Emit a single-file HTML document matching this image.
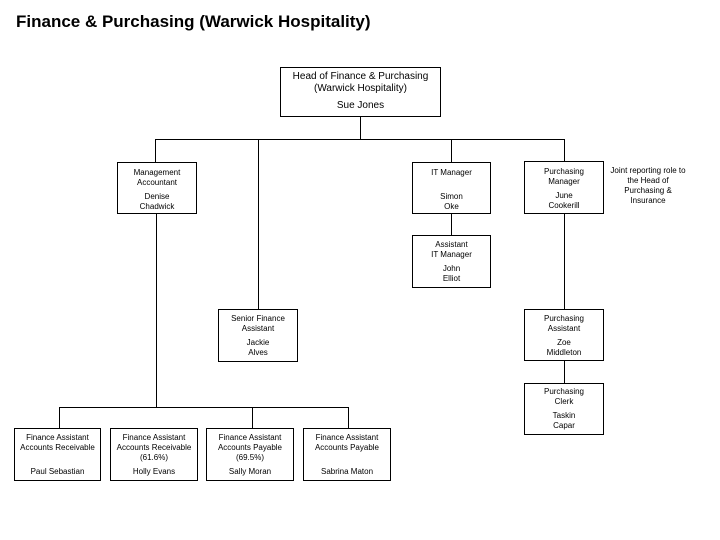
<!DOCTYPE html>
<html><head><meta charset="utf-8"><style>
body{margin:0;width:720px;height:540px;background:#fff;position:relative;overflow:hidden;font-family:"Liberation Sans",sans-serif;color:#000}
.t{position:absolute;left:16px;top:12px;font-size:17px;font-weight:bold}
.b{position:absolute;border:1px solid #000;box-sizing:border-box;font-size:8px;line-height:10px;text-align:center;background:#fff}
.b p{margin:0}
.h{position:absolute;background:#000;height:1px}
.v{position:absolute;background:#000;width:1px}
</style></head><body>
<div class="t">Finance &amp; Purchasing (Warwick Hospitality)</div>

<!-- lines -->
<div class="v" style="left:360px;top:116px;height:23px"></div>
<div class="h" style="left:155px;top:139px;width:410px"></div>
<div class="v" style="left:155px;top:139px;height:23px"></div>
<div class="v" style="left:258px;top:139px;height:170px"></div>
<div class="v" style="left:451px;top:139px;height:23px"></div>
<div class="v" style="left:564px;top:139px;height:22px"></div>
<div class="v" style="left:156px;top:213px;height:194px"></div>
<div class="v" style="left:451px;top:213px;height:22px"></div>
<div class="v" style="left:564px;top:213px;height:96px"></div>
<div class="v" style="left:564px;top:360px;height:23px"></div>
<div class="h" style="left:59px;top:407px;width:290px"></div>
<div class="v" style="left:59px;top:407px;height:21px"></div>
<div class="v" style="left:252px;top:407px;height:21px"></div>
<div class="v" style="left:348px;top:407px;height:21px"></div>

<!-- boxes -->
<div class="b" style="left:280px;top:67px;width:161px;height:50px;font-size:10px;line-height:12px;padding-top:3px"><p>Head of Finance &amp; Purchasing</p><p>(Warwick Hospitality)</p><p style="margin-top:5px">Sue Jones</p></div>

<div class="b" style="left:117px;top:162px;width:80px;height:52px;padding-top:5px"><p>Management</p><p>Accountant</p><p style="margin-top:4px">Denise</p><p>Chadwick</p></div>

<div class="b" style="left:412px;top:162px;width:79px;height:52px;padding-top:5px"><p>IT Manager</p><p style="margin-top:14px">Simon</p><p>Oke</p></div>
<div class="b" style="left:412px;top:235px;width:79px;height:53px;padding-top:4px"><p>Assistant</p><p>IT Manager</p><p style="margin-top:4px">John</p><p>Elliot</p></div>

<div class="b" style="left:524px;top:161px;width:80px;height:53px;padding-top:5px"><p>Purchasing</p><p>Manager</p><p style="margin-top:4px">June</p><p>Cookerill</p></div>
<div class="b" style="left:524px;top:309px;width:80px;height:52px;padding-top:4px"><p>Purchasing</p><p>Assistant</p><p style="margin-top:4px">Zoe</p><p>Middleton</p></div>
<div class="b" style="left:524px;top:383px;width:80px;height:52px;padding-top:3px"><p>Purchasing</p><p>Clerk</p><p style="margin-top:4px">Taskin</p><p>Capar</p></div>

<div class="b" style="left:218px;top:309px;width:80px;height:53px;padding-top:4px"><p>Senior Finance</p><p>Assistant</p><p style="margin-top:4px">Jackie</p><p>Alves</p></div>

<div class="b" style="left:14px;top:428px;width:87px;height:53px;padding-top:4px"><p>Finance Assistant</p><p>Accounts Receivable</p><p style="margin-top:14px">Paul Sebastian</p></div>
<div class="b" style="left:110px;top:428px;width:88px;height:53px;padding-top:4px"><p>Finance Assistant</p><p>Accounts Receivable</p><p>(61.6%)</p><p style="margin-top:4px">Holly Evans</p></div>
<div class="b" style="left:206px;top:428px;width:88px;height:53px;padding-top:4px"><p>Finance Assistant</p><p>Accounts Payable</p><p>(69.5%)</p><p style="margin-top:4px">Sally Moran</p></div>
<div class="b" style="left:303px;top:428px;width:88px;height:53px;padding-top:4px"><p>Finance Assistant</p><p>Accounts Payable</p><p style="margin-top:14px">Sabrina Maton</p></div>

<div style="position:absolute;left:605px;top:166px;width:86px;font-size:8px;line-height:10px;text-align:center">Joint reporting role to<br>the Head of<br>Purchasing &amp;<br>Insurance</div>
</body></html>
